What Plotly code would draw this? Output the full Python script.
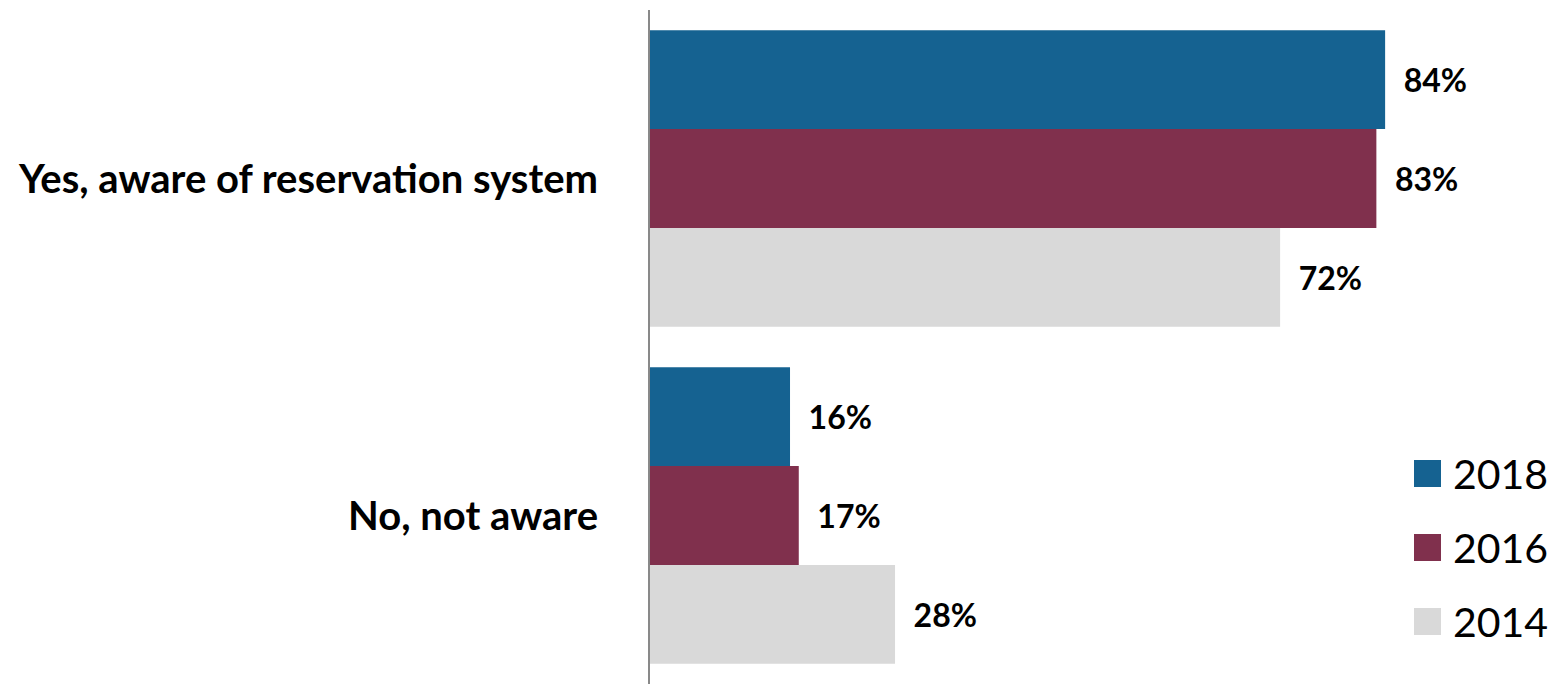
import plotly.graph_objects as go

categories = ["Yes, aware of reservation system", "No, not aware"]
series_names = ["2018", "2016", "2014"]
values_2018 = [84, 16]
values_2016 = [83, 17]
values_2014 = [72, 28]
colors = ["#156291", "#80304D", "#D9D9D9"]

series_values = [values_2018, values_2016, values_2014]

fig = go.Figure()
for name, vals, col in zip(series_names, series_values, colors):
    fig.add_trace(go.Bar(
        name=name,
        y=categories,
        x=vals,
        orientation="h",
        marker=dict(color=col, line=dict(width=0)),
        text=[f"\u00a0\u00a0{v}%" for v in vals],
        textposition="outside",
        textfont=dict(family="Lato", size=32, color="#000000", weight="bold"),
        cliponaxis=False,
        showlegend=False,
    ))

# Legend drawn as layout shapes + annotations (paper coordinates)
shapes = []
annotations = []
plot_w, plot_h = 750.0, 674.0
sq = 27.0
for i, (name, col) in enumerate(zip(series_names, colors)):
    top_px = 460 + 74 * i  # pixel row in figure
    y0 = (684 - (top_px + sq)) / plot_h
    y1 = (684 - top_px) / plot_h
    x0 = (1414 - 650) / plot_w
    x1 = x0 + sq / plot_w
    shapes.append(dict(type="rect", xref="paper", yref="paper",
                       x0=x0, x1=x1, y0=y0, y1=y1,
                       fillcolor=col, line=dict(width=0)))
    annotations.append(dict(xref="paper", yref="paper",
                            x=(1451 - 650) / plot_w, y=(y0 + y1) / 2,
                            xanchor="left", yanchor="middle",
                            text=name, showarrow=False,
                            font=dict(family="Lato", size=41, color="#000000")))

fig.update_layout(
    width=1564,
    height=684,
    margin=dict(l=650, r=164, t=10, b=0, autoexpand=False),
    paper_bgcolor="white",
    plot_bgcolor="white",
    barmode="group",
    bargap=0.12,
    bargroupgap=0,
    font=dict(family="Lato", color="#000000"),
    showlegend=False,
    shapes=shapes,
    annotations=annotations,
)
fig.update_xaxes(
    range=[0, 85.7],
    showgrid=False,
    zeroline=False,
    showticklabels=False,
    showline=False,
)
fig.update_yaxes(
    autorange="reversed",
    showgrid=False,
    zeroline=False,
    showline=True,
    linecolor="#898989",
    linewidth=2,
    ticks="",
    ticklabelstandoff=42,
    tickfont=dict(family="Lato", size=40, color="#000000", weight="bold"),
)

fig.write_html("out.html", config={"displayModeBar": False},
               post_script="document.body.style.margin='0';")
